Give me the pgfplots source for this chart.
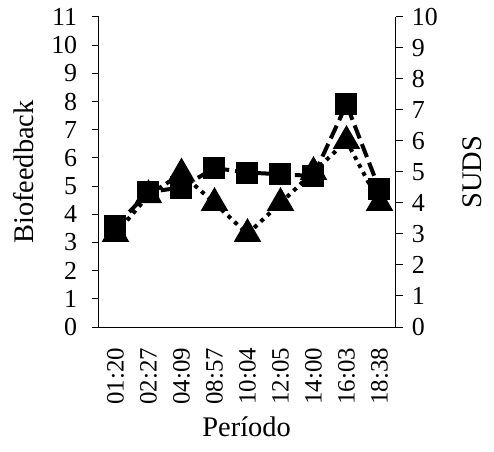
\documentclass[border=0pt]{standalone}
\usepackage{pgfplots}
\pgfplotsset{compat=1.18}
\usepackage{fontspec}
\setmainfont{Liberation Serif}
\begin{document}
\fontsize{26}{30}\selectfont
\begin{tikzpicture}
\pgfplotsset{
  common/.style={
    scale only axis, width=297bp, height=310bp,
    xmin=-0.5, xmax=8.5,
    tick align=outside, major tick length=7bp,
    axis line style={black, line width=1bp},
    tick style={black, line width=1bp},
    /pgf/number format/assume math mode=true,
    tick label style={font=\fontsize{26}{30}\selectfont},
    label style={font=\fontsize{28.5}{32}\selectfont},
    clip=false,
  }
}
\begin{axis}[common, name=a,
  ymin=0, ymax=10, ytick={0,...,10},
  axis y line*=right, axis x line=none,
  ylabel={SUDS},
  ylabel style={at={(axis description cs:1.257,0.5)}, rotate=0, anchor=center},
]
\addplot[black, line width=4bp, dash pattern=on 4bp off 5bp, mark=triangle*, mark size=12bp, mark options={solid}]
coordinates {(0,3.0) (1,4.25) (2,4.95) (3,4.0) (4,3.0) (5,4.0) (6,5.0) (7,6.0) (8,4.0)};
\end{axis}
\begin{axis}[common, name=b,
  ymin=0, ymax=11, ytick={0,...,11},
  axis y line*=left, axis x line*=bottom,
  yticklabel style={xshift=-6bp},
  xticklabel shift=5bp,
  xtick={0,...,8},
  xticklabels={01:20,02:27,04:09,08:57,10:04,12:05,14:00,16:03,18:38},
  x tick label style={rotate=90, anchor=east, font=\fontsize{25}{30}\selectfont},
  major x tick style={draw=none},
  ylabel={Biofeedback}, xlabel={Período},
  ylabel style={at={(axis description cs:-0.255,0.5)}, rotate=0, anchor=center},
  xlabel style={at={(axis description cs:0.497,-0.322)}, anchor=center},
]
\addplot[black, line width=4bp, dash pattern=on 14bp off 6bp, mark=square*, mark size=9bp, mark options={solid}]
coordinates {(0,3.57) (1,4.79) (2,4.95) (3,5.64) (4,5.48) (5,5.42) (6,5.36) (7,7.9) (8,4.88)};
\end{axis}
\pgfresetboundingbox
\path[use as bounding box] ([shift={(-99bp,-125bp)}]b.south west) rectangle ([shift={(395bp,327bp)}]b.south west);
\end{tikzpicture}
\end{document}
